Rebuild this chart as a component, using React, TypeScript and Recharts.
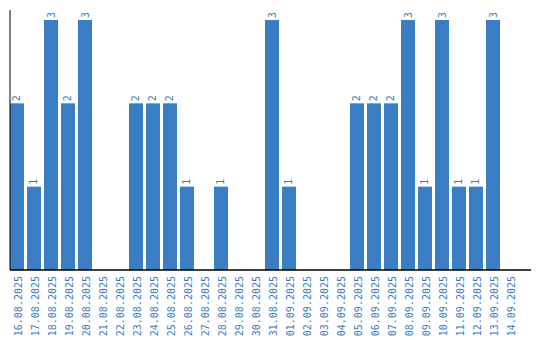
import React from "react";
import { BarChart, Bar, XAxis, YAxis, LabelList } from "recharts";

const dates = [
  "16.08.2025", "17.08.2025", "18.08.2025", "19.08.2025", "20.08.2025",
  "21.08.2025", "22.08.2025", "23.08.2025", "24.08.2025", "25.08.2025",
  "26.08.2025", "27.08.2025", "28.08.2025", "29.08.2025", "30.08.2025",
  "31.08.2025", "01.09.2025", "02.09.2025", "03.09.2025", "04.09.2025",
  "05.09.2025", "06.09.2025", "07.09.2025", "08.09.2025", "09.09.2025",
  "10.09.2025", "11.09.2025", "12.09.2025", "13.09.2025", "14.09.2025",
];
const counts = [2, 1, 3, 2, 3, 0, 0, 2, 2, 2, 1, 0, 1, 0, 0, 3, 1, 0, 0, 0, 2, 2, 2, 3, 1, 3, 1, 1, 3, 0];

const data = dates.map((d, i) => ({ date: d, value: counts[i] }));

const BLUE = "#3b7dc2";
const FONT = "'DejaVu Sans Mono', monospace";

const BarShape = (props: any) => {
  const { x, y, width, height } = props;
  if (!height || height <= 0) return null;
  return <rect x={x} y={y} width={width - 3} height={height} fill={BLUE} />;
};

const Tick = (props: any) => {
  const { x, y, payload } = props;
  return (
    <text
      x={x}
      y={y}
      transform={`rotate(-90, ${x}, ${y})`}
      textAnchor="end"
      dominantBaseline="central"
      fill={BLUE}
      fontSize={10}
      fontFamily={FONT}
    >
      {payload.value}
    </text>
  );
};

const ValueLabel = (props: any) => {
  const { x, y, width, value } = props;
  if (!value) return null;
  const cx = x + (width - 3) / 2;
  const cy = y - 2;
  return (
    <text
      x={cx}
      y={cy}
      transform={`rotate(-90, ${cx}, ${cy})`}
      textAnchor="start"
      dominantBaseline="central"
      fill={BLUE}
      fontSize={10}
      fontFamily={FONT}
    >
      {value}
    </text>
  );
};

export default function App() {
  return (
    <div style={{ position: "absolute", left: 0, top: 0, width: 540, height: 340 }}>
      <BarChart
        width={540}
        height={340}
        data={data}
        margin={{ top: 10, right: 9, left: 9, bottom: 0 }}
        barCategoryGap={0}
      >
        <XAxis
          dataKey="date"
          interval={0}
          tick={<Tick />}
          tickLine={false}
          axisLine={{ stroke: "#000", strokeWidth: 1.5 }}
          height={70}
          tickMargin={0}
          padding={{ left: 0, right: 11 }}
        />
        <YAxis
          width={1}
          domain={[0, 3.12]}
          tick={false}
          tickLine={false}
          axisLine={{ stroke: "#000", strokeWidth: 1 }}
        />
        <Bar dataKey="value" isAnimationActive={false} shape={<BarShape />}>
          <LabelList dataKey="value" content={<ValueLabel />} />
        </Bar>
      </BarChart>
    </div>
  );
}
